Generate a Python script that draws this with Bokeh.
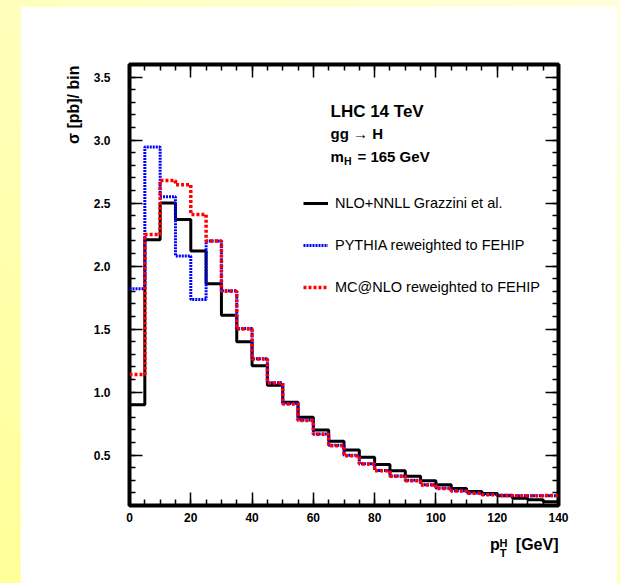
import numpy as np
from bokeh.plotting import figure
from bokeh.layouts import column
from bokeh.models import (Range1d, LinearAxis, FixedTicker, Label, Legend,
                          LegendItem, NumeralTickFormatter, Title)
from bokeh.embed import file_html
from bokeh.resources import INLINE

# ---------------- data ----------------
bin_edges = [0, 5, 10, 15, 20, 25, 30, 35, 40, 45, 50, 55, 60, 65, 70,
             75, 80, 85, 90, 95, 100, 105, 110, 115, 120, 125, 130, 135, 140]

nnll_grazzini = [0.90, 2.21, 2.50, 2.37, 2.12, 1.86, 1.61, 1.40, 1.21, 1.055,
                 0.92, 0.80, 0.70, 0.61, 0.54, 0.482, 0.426, 0.376, 0.332, 0.297,
                 0.265, 0.235, 0.212, 0.195, 0.178, 0.158, 0.145, 0.13]

pythia_fehip = [1.82, 2.945, 2.55, 2.08, 1.735, 2.20, 1.805, 1.505, 1.265, 1.075,
                0.91, 0.778, 0.668, 0.578, 0.498, 0.432, 0.377, 0.335, 0.300, 0.265,
                0.238, 0.217, 0.199, 0.188, 0.182, 0.178, 0.178, 0.178]

mcatnlo_fehip = [1.14, 2.25, 2.68, 2.645, 2.41, 2.20, 1.80, 1.50, 1.262, 1.072,
                 0.905, 0.775, 0.665, 0.575, 0.495, 0.430, 0.375, 0.333, 0.297, 0.262,
                 0.235, 0.215, 0.197, 0.186, 0.180, 0.178, 0.178, 0.180]

x_ticks = [0, 20, 40, 60, 80, 100, 120, 140]
y_ticks = [0.5, 1.0, 1.5, 2.0, 2.5, 3.0, 3.5]

series_names = ["NLO+NNLL Grazzini et al.",
                "PYTHIA reweighted to FEHIP",
                "MC@NLO reweighted to FEHIP"]

FONT = "Liberation Sans"

# ---------------- figure ----------------
p = figure(width=597, height=577,
           x_range=Range1d(0, 140), y_range=Range1d(0.1, 3.6),
           x_axis_type=None, y_axis_type=None,
           output_backend="svg", toolbar_location=None,
           min_border_left=109, min_border_right=59,
           min_border_top=58, min_border_bottom=78)
p.margin = (6, 3, 0, 20)
p.background_fill_color = "white"
p.border_fill_color = "white"
p.xgrid.visible = False
p.ygrid.visible = False
p.outline_line_color = "black"
p.outline_line_width = 4

x_minor = list(np.arange(0, 141, 5))
y_minor = list(np.round(np.arange(0.1, 3.61, 0.1), 2))

for loc in ["below", "above"]:
    ax = LinearAxis(ticker=FixedTicker(ticks=x_ticks, minor_ticks=x_minor))
    ax.axis_line_color = None
    ax.major_tick_in = 13
    ax.major_tick_out = 0
    ax.minor_tick_in = 6
    ax.minor_tick_out = 0
    ax.major_tick_line_width = 1.5
    ax.minor_tick_line_width = 1.5
    ax.major_label_text_font = FONT
    ax.major_label_text_font_style = "bold"
    ax.major_label_text_font_size = "12px"
    ax.major_label_text_color = "black"
    ax.major_label_standoff = 7
    if loc == "above":
        ax.major_label_text_color = None
    p.add_layout(ax, loc)

for loc in ["left", "right"]:
    ax = LinearAxis(ticker=FixedTicker(ticks=y_ticks, minor_ticks=y_minor),
                    formatter=NumeralTickFormatter(format="0.0"))
    ax.axis_line_color = None
    ax.major_tick_in = 13
    ax.major_tick_out = 0
    ax.minor_tick_in = 6
    ax.minor_tick_out = 0
    ax.major_tick_line_width = 1.5
    ax.minor_tick_line_width = 1.5
    ax.major_label_text_font = FONT
    ax.major_label_text_font_style = "bold"
    ax.major_label_text_font_size = "12px"
    ax.major_label_text_color = "black"
    ax.major_label_standoff = 19
    if loc == "right":
        ax.major_label_text_color = None
    p.add_layout(ax, loc)

def side_title(text, size, offset, standoff, valign="bottom"):
    return Title(text=text, align="right", offset=offset, standoff=standoff,
                 vertical_align=valign,
                 text_font=FONT, text_font_style="bold", text_font_size=size,
                 text_color="black")

# y-axis title, aligned to the top end of the axis
p.add_layout(side_title("\u03c3 [pb]/ bin", "16px", 1, 18), "left")

# x-axis title p_T^H [GeV], aligned to the right end of the axis
p.add_layout(side_title("p\u2003[GeV]", "16px", 0, 18), "below")
p.add_layout(side_title("T", "11px", 52, -29, "top"), "below")
p.add_layout(side_title("H", "11px", 51, -50, "top"), "below")

# ---------------- histograms ----------------
def closed(vals):
    return list(vals) + [vals[-1]]

r_black = p.step(x=bin_edges, y=closed(nnll_grazzini), mode="after",
                 line_color="black", line_width=3)
r_blue = p.step(x=bin_edges, y=closed(pythia_fehip), mode="after",
                line_color="#0000ff", line_width=3, line_dash="2 1")
r_red = p.step(x=bin_edges, y=closed(mcatnlo_fehip), mode="after",
               line_color="#ff0000", line_width=3.5, line_dash="3 2")

legend = Legend(items=[LegendItem(label=series_names[0], renderers=[r_black]),
                       LegendItem(label=series_names[1], renderers=[r_blue]),
                       LegendItem(label=series_names[2], renderers=[r_red])],
                location=(174, 208))
legend.padding = 0
legend.margin = 0
legend.spacing = 22
legend.glyph_width = 25
legend.glyph_height = 20
legend.label_height = 20
legend.label_standoff = 7
legend.border_line_color = None
legend.background_fill_alpha = 0
legend.label_text_font = FONT
legend.label_text_font_size = "14.5px"
legend.label_text_color = "black"
p.add_layout(legend)

# ---------------- texts inside the frame ----------------
def lab(x, y, text, size, style="bold"):
    p.add_layout(Label(x=x, y=y, x_units="screen", y_units="screen", text=text,
                       text_font=FONT, text_font_style=style,
                       text_font_size=size, text_color="black",
                       text_align="left", text_baseline="alphabetic"))

lab(201, 394, "LHC 14 TeV", "17px")
lab(201, 372, "gg \u2192 H", "15px")
lab(201, 349, "m", "15px")
lab(214.5, 345, "H", "10.5px")
lab(228, 349, "= 165 GeV", "15px")

layout = column(p, styles={"background": "linear-gradient(to top right, #ffff99, #ffffdd)"})

open("out.html", "w").write(file_html(layout, INLINE))
